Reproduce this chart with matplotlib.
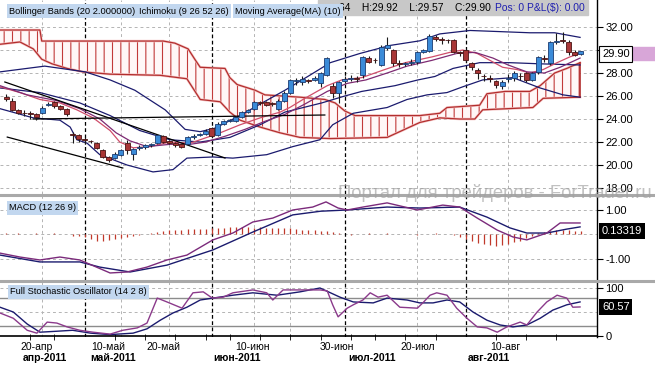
import numpy as np
import matplotlib
matplotlib.use("Agg")
import matplotlib.pyplot as plt
from matplotlib.lines import Line2D
from matplotlib.patches import Rectangle
from matplotlib.transforms import blended_transform_factory

plt.rcParams["font.family"] = ["Liberation Sans", "DejaVu Sans"]
plt.rcParams["hatch.linewidth"] = 0.8

# ---------------- data (x = trading-day index, 0 = 12-Apr-2011) ----------------
opens = [25.9, 25.6, 24.8, 24.55, 24.5, 24.4, 24.5, 25.2, 25.5, 25.1,
         24.9, 22.7, 22.6, 22.25, 22.1, 21.9, 21.3, 20.7, 20.6, 20.9,
         21.9, 21.0, 21.5, 21.6, 21.7, 21.9, 22.5, 22.1, 21.9, 21.8,
         21.8, 22.4, 22.6, 22.7, 23.2, 22.6, 23.6, 23.8, 23.8, 24.2,
         24.6, 24.9, 25.45, 25.5, 25.35, 24.9, 25.6, 26.3, 27.3, 27.2,
         27.35, 27.4, 27.1, 27.8, 26.9, 26.3, 27.3, 27.5, 27.55, 27.8,
         29.3, 29.15, 28.7, 30.2, 30.0, 28.9, 28.8, 28.9, 29.0, 29.8,
         29.9, 31.1, 30.95, 30.9, 30.9, 29.8, 30.0, 28.9, 28.3, 27.75,
         27.6, 27.3, 26.9, 27.5, 27.6, 27.75, 28.0, 27.4, 28.1, 29.3,
         28.9, 30.7, 30.85, 30.7, 29.8, 29.64]
highs = [26.2, 25.8, 24.9, 24.8, 24.7, 24.5, 25.1, 25.5, 25.6, 25.2,
         25.0, 22.9, 22.7, 22.4, 22.2, 22.0, 21.4, 20.8, 21.1, 21.4,
         22.2, 21.5, 21.7, 21.8, 21.9, 22.7, 22.6, 22.2, 22.0, 21.9,
         22.5, 22.7, 22.8, 23.1, 23.3, 23.7, 23.9, 24.0, 24.3, 24.7,
         24.9, 25.6, 25.6, 25.6, 25.5, 25.7, 26.4, 27.5, 27.6, 27.7,
         27.5, 27.7, 28.1, 29.4, 27.1, 27.3, 27.7, 27.8, 27.7, 29.5,
         29.5, 29.3, 30.4, 31.1, 30.1, 29.1, 29.0, 29.2, 29.9, 30.1,
         31.4, 31.3, 31.1, 31.0, 31.0, 29.9, 30.1, 29.0, 28.4, 27.9,
         27.8, 27.4, 27.4, 27.9, 28.2, 28.0, 28.1, 28.1, 29.5, 29.6,
         30.8, 31.5, 31.6, 30.9, 30.0, 29.92]
lows = [25.6, 24.7, 24.4, 24.3, 24.0, 23.9, 24.4, 25.1, 25.0, 24.8,
        24.3, 21.9, 22.0, 21.8, 21.9, 21.4, 20.6, 20.3, 20.5, 20.8,
        21.0, 20.4, 21.3, 21.4, 21.6, 21.8, 21.9, 21.8, 21.6, 21.5,
        21.7, 22.3, 22.5, 22.6, 22.4, 22.5, 23.5, 23.7, 23.7, 24.1,
        24.5, 24.8, 25.2, 25.1, 25.1, 24.8, 25.5, 26.2, 27.0, 27.0,
        27.1, 27.3, 26.8, 27.7, 25.8, 25.4, 27.1, 27.3, 27.2, 27.6,
        28.9, 28.9, 28.6, 30.0, 28.6, 28.5, 28.6, 28.7, 28.8, 29.7,
        29.8, 30.8, 30.5, 30.6, 29.7, 29.5, 29.0, 28.3, 27.5, 27.3,
        27.2, 26.7, 26.6, 27.2, 27.3, 27.4, 27.2, 27.3, 27.9, 29.0,
        28.7, 30.5, 30.6, 29.6, 29.5, 29.57]
closes = [25.7, 24.8, 24.5, 24.5, 24.4, 24.2, 25.0, 25.3, 25.1, 24.9,
          24.4, 22.6, 22.3, 22.2, 22.05, 21.5, 20.7, 20.4, 21.0, 21.3,
          21.3, 21.4, 21.6, 21.7, 21.8, 22.6, 22.0, 21.9, 21.7, 21.6,
          22.4, 22.5, 22.7, 23.0, 22.5, 23.6, 23.8, 23.9, 24.2, 24.6,
          24.8, 25.5, 25.4, 25.2, 25.3, 25.6, 26.3, 27.4, 27.4, 27.5,
          27.3, 27.6, 28.0, 29.3, 26.3, 27.2, 27.5, 27.6, 27.5, 29.4,
          29.0, 29.1, 30.3, 30.4, 28.9, 28.8, 28.9, 29.0, 29.8, 30.0,
          31.2, 31.0, 30.9, 30.85, 29.8, 29.7, 29.1, 28.5, 28.0, 27.7,
          27.5, 27.0, 27.2, 27.6, 28.0, 27.7, 27.4, 28.0, 29.4, 29.2,
          30.7, 30.8, 30.8, 29.8, 29.6, 29.90]

# Bollinger Bands (20, 2)
bb_up_x = [-1, 6.4, 13.1, 17.2, 21.3, 26.3, 29.6, 32.1, 34.5, 38.7, 42, 46.1,
           50.2, 53.6, 58.5, 63.5, 68.4, 71.7, 76.7, 81.7, 86.6, 90.7, 94.9]
bb_up = [28.1, 28.6, 28.1, 27.4, 26.5, 24.8, 23.1, 22.9, 23.2, 24.3, 25.3, 26.5,
         27.8, 28.9, 29.7, 30.4, 30.8, 31.4, 31.7, 31.6, 31.5, 31.5, 31.1]
bb_mid_x = [-1, 5.6, 12.2, 17.2, 22.1, 27.1, 32.1, 37, 42, 46.1, 52.2, 56, 58.8,
            64.3, 68.1, 70.9, 73.9, 78.3, 83.3, 88.3, 94.9]
bb_mid = [26.7, 26.3, 25.4, 24.3, 23.0, 22.2, 22.0, 22.4, 23.5, 24.6, 25.4, 26.0, 26.4,
          26.9, 27.4, 27.7, 28.4, 28.9, 28.9, 28.8, 28.7]
bb_lo_x = [-1, 4.5, 8.9, 10.6, 11.7, 13.4, 15.5, 20, 24.3, 27.6, 29.9, 34.2, 37.5,
           43.1, 47.4, 51.9, 54, 57.4, 63, 66.3, 69.6, 72.9, 75.5, 78.8, 83.8,
           88.3, 92.1, 94.9]
bb_lo = [24.9, 24.1, 23.9, 23.3, 22.2, 21.9, 20.9, 20.0, 19.4, 19.6, 20.6, 20.7, 20.6,
         20.9, 21.6, 22.2, 23.5, 24.5, 25.0, 25.7, 26.1, 26.3, 26.8, 27.4, 27.6,
         26.7, 26.1, 25.9]

# Moving average (10) and Ichimoku conversion line
ma_x = [-1, 3.5, 8.4, 12.2, 15.5, 18.2, 20.5, 23.3, 27.1, 30.4, 33, 36.2, 39.5,
        42.8, 46.1, 49.4, 53.1, 56.4, 59.5, 63, 66.3, 70.4, 74.5, 77.5, 80.5, 83,
        86.1, 89, 91.6, 94.9]
ma = [26.9, 26.1, 25.6, 24.9, 24.0, 22.8, 22.1, 21.6, 21.8, 21.8, 22.0, 22.5, 23.1,
      23.8, 24.4, 25.3, 26.4, 27.1, 27.4, 28.0, 28.6, 29.1, 29.7, 29.8, 29.3, 28.7,
      28.1, 28.0, 28.5, 29.3]
tenkan_x = [-1, 2.3, 5.6, 8.9, 11.7, 14.4, 17.2, 18.8, 21, 23.8, 27.1, 30.4, 32.1,
            35.4, 38.7, 42, 45.3, 46.9, 49.4, 53.1, 55.5, 58.8, 62.6, 66, 70.4,
            73.4, 75.5, 77.9, 80, 82.1, 84.5, 86.6, 88.8, 91.1, 93.2, 94.9]
tenkan = [26.8, 26.3, 25.7, 25.4, 24.8, 24.1, 23.0, 22.0, 21.5, 21.6, 22.0, 21.9, 22.2,
          22.8, 23.5, 24.1, 24.6, 25.0, 25.8, 26.9, 27.4, 27.6, 28.3, 28.9, 29.4,
          29.8, 30.0, 29.7, 29.1, 28.5, 28.3, 28.0, 28.3, 28.9, 29.4, 29.7]

# Ichimoku cloud edges
cloud_top_x = [-1, 5.6, 5.9, 26, 27.9, 30.1, 31.2, 32.1, 36.2, 37, 38.2, 41.2, 42.8,
               48.6, 52.7, 54.4, 56, 57.7, 68.4, 71.7, 72.9, 78.3, 79.5, 82.5, 86.6,
               88.3, 90.7, 92.7, 94.9]
cloud_top = [31.74, 31.74, 30.78, 30.78, 30.6, 30.1, 29.2, 28.5, 28.4, 27.6, 27.0, 26.5,
             26.1, 25.9, 25.7, 25.4, 24.7, 24.3, 24.3, 24.5, 25.0, 25.2, 26.2, 26.4,
             26.4, 26.9, 28.0, 28.4, 28.9]
cloud_bot_x = [-1, 2.3, 4.5, 5.9, 7.6, 10.1, 12.7, 17.2, 25.5, 29.9, 32.1, 35.4, 37,
               38.7, 42, 45.3, 48.6, 53.6, 63, 68.4, 71.7, 75, 77.5, 78.8, 87.1, 88.8,
               94.9]
cloud_bot = [30.5, 30.7, 30.1, 29.2, 28.8, 28.4, 28.1, 27.9, 27.8, 27.5, 25.7, 25.5, 24.6,
             23.9, 23.3, 22.8, 22.4, 22.3, 22.4, 23.7, 24.1, 24.0, 24.0, 24.8, 25.0, 25.8,
             25.9]

# hand-drawn trend lines (start, end)
trend_x = [(-0.2, 36.2), (0.2, 19.3), (4.5, 52.7)]
trend_y = [(27.22, 20.61), (22.43, 19.74), (24.0, 24.35)]

# MACD (12 26 9)
macd_x = [-1, 2.3, 5.6, 8.9, 12.2, 17.2, 20, 23.3, 26.6, 29.9, 34.2, 37.5, 40.8, 44.1,
          47.4, 50.7, 52.9, 54.9, 56.4, 59, 63, 68, 72.2, 75, 77.9, 81.2, 83.8, 86.1,
          89.4, 91.6, 94.9]
macd = [-0.76, -0.92, -1.04, -0.92, -1.04, -1.57, -1.53, -1.33, -1.04, -0.84, -0.22,
        0.06, 0.51, 0.67, 1.0, 1.12, 1.33, 1.08, 1.0, 1.12, 1.29, 1.0, 1.2, 1.12, 0.67,
        0.18, -0.10, -0.22, 0.06, 0.47, 0.47]
signal_x = [-1, 5.6, 12.2, 15.5, 20.5, 26.6, 34.2, 40.8, 47.4, 52, 56.4, 63, 68.4, 75,
            79.5, 83.3, 86.1, 89.4, 92.7, 94.9]
signal = [-0.84, -1.12, -1.12, -1.33, -1.53, -1.25, -0.63, 0.10, 0.80, 0.95, 1.0, 1.12,
          1.08, 1.12, 0.71, 0.27, 0.06, 0.06, 0.22, 0.31]
macd_hist = [0.05, 0.04, 0.05, 0.03, 0.04, 0.05, 0.04, 0.03, 0.05, 0.04, 0.03,
             -0.05, -0.08, -0.12,
             -0.2, -0.25, -0.25, -0.22, -0.2, -0.15,
             -0.1, -0.05, -0.03, 0.03,
             0.08, 0.12, 0.15, 0.17, 0.18, 0.2, 0.22, 0.22, 0.23, 0.24,
             0.25, 0.27, 0.28, 0.3, 0.3, 0.3, 0.3, 0.28, 0.3, 0.28, 0.27, 0.25, 0.25,
             0.25, 0.22,
             0.2, 0.18, 0.18, 0.15, 0.15, 0.1, 0.05,
             0.03, -0.02, 0.02, 0.04, 0.05, 0.04, 0.03, 0.05, 0.03, 0.02, 0.03, 0.02,
             -0.02, 0.03, 0.04, 0.05, 0.03, 0.02, -0.03,
             -0.1, -0.2, -0.28, -0.35, -0.4, -0.43, -0.45, -0.42, -0.38, -0.32, -0.25,
             -0.15,
             -0.05, 0.05, 0.1, 0.15, 0.17, 0.18, 0.17, 0.15, 0.13]

# Full Stochastic (14 2 8)
stk_x = [-1, 1.2, 3.5, 5.1, 6.8, 8.4, 10.1, 12.2, 14.4, 17.2, 19.3, 21.7, 23.3, 25,
         26.6, 29.1, 30.9, 32.6, 34.1, 35.9, 37.5, 40.8, 43.1, 44.1, 45.8, 47.4, 49.8,
         51.9, 53.1, 54, 54.9, 56.4, 57.4, 59, 60.2, 61.5, 63, 65.1, 68, 68.9, 70.1,
         71.2, 72.9, 74.5, 76.2, 77.9, 79.5, 81.2, 82.8, 85, 86.1, 87.8, 89.4, 91.1,
         92.7, 93.7, 94.9]
stk = [48, 37, 12, 6, 29, 27, 19, 12, 8, 4, 12, 17, 27, 79, 71, 58, 90, 92, 79, 81, 90,
       96, 90, 75, 96, 96, 96, 96, 94, 65, 40, 58, 65, 75, 90, 81, 85, 60, 58, 69, 85,
       90, 85, 58, 37, 19, 17, 8, 19, 29, 23, 50, 71, 85, 79, 60, 60.57]
std_x = [-1, 1.2, 3.5, 5.6, 8.4, 11, 14, 17.2, 21, 23.3, 25.5, 27.6, 29.9, 32.1, 34.2,
         37.5, 40.8, 44.8, 48.6, 51.9, 55.2, 57.4, 60.7, 63, 66.3, 68.4, 70.6, 72.9, 75,
         77.2, 79.5, 81.7, 83.8, 86.1, 88.3, 90.4, 92.7, 94.9]
std = [60, 50, 25, 8, 10, 12, 6, 3, 6, 15, 33, 48, 60, 75, 79, 85, 90, 85, 92, 100, 81,
       71, 69, 79, 75, 69, 69, 75, 71, 50, 33, 23, 19, 23, 37, 54, 65, 71]

# time axis
grid_idx = [6, 19, 27, 41, 47, 68, 83]
month_start_idx = [13, 34, 56, 76]
week_idx = [4, 8, 18, 23, 28, 33, 37, 42, 47, 52, 57, 61, 66, 71, 81, 86, 91]
date_label_idx = [5.1, 16.9, 26, 40.7, 54.7, 68, 82.5]
date_labels = ["20-апр", "10-май", "20-май", "10-июн", "30-июн", "20-июл", "10-авг"]
month_label_idx = [2.8, 13.9, 34.2, 56.5, 76.4]
month_labels = ["апр-2011", "май-2011", "июн-2011", "июл-2011", "авг-2011"]

# ---------------- figure ----------------
W, H = 655, 368
fig = plt.figure(figsize=(W / 100, H / 100), dpi=100)


def fx(px):
    return px / W


def fy(py):
    return 1 - py / H


right = fx(597)
ax_p = fig.add_axes([0, fy(194), right, fy(0) - fy(194)])
ax_m = fig.add_axes([0, fy(280), right, fy(196) - fy(280)])
ax_s = fig.add_axes([0, fy(337), right, fy(282) - fy(337)])

NAVY = "#1b1b6e"
PURPLE = "#7d2a72"
PINK = "#cf4d6a"
GRID = "#b4b4b4"

for ax in (ax_p, ax_m, ax_s):
    ax.set_xlim(-1, 97.7)
    for s in ("left", "top", "bottom"):
        ax.spines[s].set_visible(False)
    ax.spines["right"].set_linewidth(1.0)
    ax.yaxis.tick_right()
    ax.tick_params(axis="y", length=4, width=0.8, pad=2, labelsize=8)
    ax.tick_params(axis="x", bottom=False, labelbottom=False)
    for g in grid_idx:
        ax.axvline(g, color=GRID, lw=0.7, ls=(0, (3, 3)), zorder=0)
    for m in month_start_idx:
        ax.axvline(m, color="black", lw=0.9, ls=(0, (3, 2)), zorder=1)

# ----- price panel -----
ax_p.set_ylim(17.48, 34.35)
price_ticks = [32, 30, 28, 26, 24, 22, 20, 18]
# the 30.00 label sits under the last-price box, as in the original
ax_p.set_yticks(price_ticks, ["" if t == 30 else f"{t:.2f}" for t in price_ticks])
for t in price_ticks:
    ax_p.axhline(t, color=GRID, lw=0.7, ls=(0, (3, 3)), zorder=0)

cx = np.concatenate([cloud_top_x, cloud_bot_x[::-1]])
cy = np.concatenate([cloud_top, cloud_bot[::-1]])
ax_p.fill(cx, cy, facecolor="#fff7f7", edgecolor="#c23a3a", hatch="||", lw=0, zorder=1)
for xs, ys in ((cloud_top_x, cloud_top), (cloud_bot_x, cloud_bot)):
    ax_p.plot(xs, ys, color="#f5c4c4", lw=1.8, zorder=1.5)
    ax_p.plot(xs, ys, color="#b22e2e", lw=0.9, zorder=1.6)
ax_p.plot([cloud_top_x[-1]] * 2, [cloud_bot[-1], cloud_top[-1]], color="#b22e2e", lw=1.2, zorder=1.6)

for xs, ys in ((bb_up_x, bb_up), (bb_mid_x, bb_mid), (bb_lo_x, bb_lo)):
    ax_p.plot(xs, ys, color=NAVY, lw=0.9, zorder=2)
ax_p.plot(tenkan_x, tenkan, color=PINK, lw=0.9, zorder=2)
ax_p.plot(ma_x, ma, color=PURPLE, lw=0.9, zorder=2)
for xs, ys in zip(trend_x, trend_y):
    ax_p.plot(xs, ys, color="black", lw=0.9, zorder=3)

idx = np.arange(len(closes))
o, hi, lo, c = (np.array(a) for a in (opens, highs, lows, closes))
up = c >= o
ax_p.vlines(idx, lo, hi, color="#1a1a1a", lw=0.8, zorder=4)
ax_p.bar(idx[up], (c - o)[up], bottom=o[up], width=0.82, color="#3b8bd8",
         edgecolor="#1c3c72", lw=0.6, zorder=5)
ax_p.bar(idx[~up], (c - o)[~up], bottom=o[~up], width=0.82, color="#a83636",
         edgecolor="#4a1414", lw=0.6, zorder=5)

# ----- MACD panel -----
ax_m.set_ylim(-1.857, 1.571)
ax_m.set_yticks([1, -1], ["1.00", "-1.00"])
for t in (1, 0, -1):
    ax_m.axhline(t, color=GRID, lw=0.7, ls=(0, (3, 3)), zorder=0)
ax_m.vlines(idx, 0, macd_hist, color="#c0392b", lw=0.9, zorder=2)
ax_m.plot(signal_x, signal, color=NAVY, lw=1.0, zorder=3)
ax_m.plot(macd_x, macd, color="#7b2a7b", lw=1.0, zorder=3)

# ----- Stochastic panel -----
ax_s.set_ylim(-2, 112.5)
ax_s.set_yticks([100, 0], ["100", "0"])
for t in (100, 50):
    ax_s.axhline(t, color=GRID, lw=0.7, ls=(0, (3, 3)), zorder=0)
for t in (80, 20):
    ax_s.axhline(t, color="#8c8c8c", lw=1.0, zorder=1)
ax_s.axhline(0, color="black", lw=1.2, zorder=3)
ax_s.plot(std_x, std, color=NAVY, lw=1.0, zorder=2)
ax_s.plot(stk_x, stk, color="#8b3a8b", lw=1.0, zorder=2)

ax_s.set_xticks(week_idx, minor=True)
ax_s.tick_params(axis="x", which="minor", bottom=True, length=4, width=0.6,
                 direction="inout", color="black")
ax_s.set_xticks(date_label_idx, date_labels)
ax_s.tick_params(axis="x", which="major", bottom=True, length=0, pad=3.5,
                 labelbottom=True, labelsize=7.5)
tr = blended_transform_factory(ax_s.transData, fig.transFigure)
for xi, lab in zip(month_label_idx, month_labels):
    fig.text(xi, fy(358), lab, transform=tr, ha="left", va="center",
             fontsize=7.5, fontweight="bold")

# ----- separators / header / value boxes -----
for py in (195, 281):
    fig.add_artist(Line2D([0, 1], [fy(py), fy(py)], color="#a9a9a9", lw=2.2,
                          transform=fig.transFigure, zorder=6))

fig.add_artist(Rectangle((fx(318), fy(15)), fx(588) - fx(318), fy(0) - fy(15),
                         transform=fig.transFigure, color="#c8c8c8", zorder=6))
fig.text(fx(339), fy(8), "64    H:29.92    L:29.57    C:29.90", fontsize=7.4,
         va="center", zorder=7)
fig.text(fx(495), fy(8), "Pos: 0 P&L($): 0.00", fontsize=7.4, color="#1f1fb0",
         va="center", zorder=7)

lab_box = dict(boxstyle="square,pad=0.25", fc="#c2d7ef", ec="none")
for px, py, txt in ((9, 11, "Bollinger Bands (20 2.000000)"),
                    (139, 11, "Ichimoku (9 26 52 26)"),
                    (235, 11, "Moving Average(MA) (10)"),
                    (9, 208, "MACD (12 26 9)"),
                    (10, 292, "Full Stochastic Oscillator (14 2 8)")):
    fig.text(fx(px), fy(py), txt, fontsize=6.7, va="center", bbox=lab_box, zorder=8)

fig.text(fx(338), fy(193), "Портал для трейдеров - ForTrader.ru", fontsize=13.3,
         color="#a0a0a0", alpha=0.65, va="center", zorder=9)

fig.add_artist(Rectangle((fx(633), fy(60)), fx(655) - fx(633), fy(47) - fy(60),
                         transform=fig.transFigure, color="#d8a6d8", zorder=7))
fig.text(fx(602), fy(54), "29.90", fontsize=8, va="center", zorder=8,
         bbox=dict(boxstyle="square,pad=0.25", fc="white", ec="black", lw=0.8))
fig.text(fx(602), fy(231), "0.13319", fontsize=8, va="center", color="white", zorder=8,
         bbox=dict(boxstyle="square,pad=0.25", fc="black", ec="none"))
fig.text(fx(602), fy(307), "60.57", fontsize=8, va="center", color="white", zorder=8,
         bbox=dict(boxstyle="square,pad=0.25", fc="black", ec="none"))

fig.savefig("out.png", dpi=100)
